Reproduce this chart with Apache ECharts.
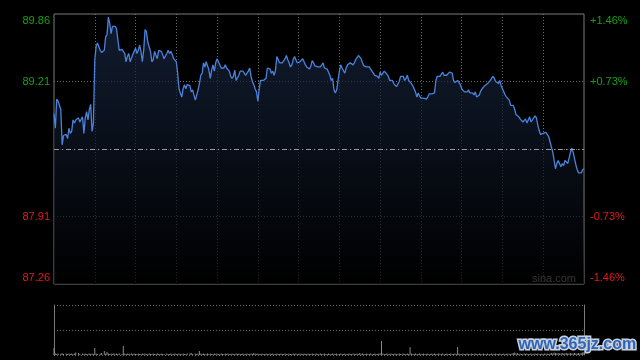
<!DOCTYPE html>
<html><head><meta charset="utf-8">
<script src="https://cdn.jsdelivr.net/npm/echarts@6/dist/echarts.min.js"></script>
<style>html,body{margin:0;padding:0;background:#000;}#c{width:640px;height:360px;}</style>
</head><body><div id="c"></div>
<script>
// minute offsets from 09:30 (390-minute session)
const minutes = [
0,1,2,3,5,6,7,9,10,11,12,13,14,15,16,18,19,21,22,23,24,25,26,27,28,29,30,31,32,34,35,
37,38,39,40,41,42,43,44,45,46,47,48,
50,51,52,53,54,55,56,57,58,59,60,61,62,63,64,65,66,67,68,69,70,71,72,73,74,75,76,77,78,79,80,81,
83,84,85,86,87,88,89,90,91,92,93,94,95,96,97,98,
100,101,102,104,105,106,107,108,109,
110,111,112,113,114,115,116,117,118,119,120,121,122,123,124,125,126,127,128,129,
130,131,132,133,134,135,136,137,138,139,140,141,142,143,144,145,146,147,148,149,
150,151,152,153,154,155,156,157,158,159,160,161,162,163,164,165,166,167,168,169,
170,171,172,173,174,175,176,177,178,179,180,181,182,183,184,185,186,187,188,189,
190,191,192,193,194,195,196,197,
198,199,200,201,202,203,204,205,206,207,208,209,210,211,212,213,214,215,216,217,218,219,
220,221,222,223,224,225,226,227,228,229,230,231,232,233,234,235,236,237,238,239,
240,241,242,243,244,245,246,247,248,249,250,251,252,253,254,255,256,257,258,259,
260,261,262,263,264,265,266,267,268,269,270,271,272,273,274,275,276,277,278,279,
280,281,282,283,284,285,286,287,288,289,290,291,292,293,294,295,296,
297,298,299,300,301,302,303,304,305,306,307,308,309,310,311,312,313,314,315,316,317,318,319,
320,321,322,323,324,325,326,327,328,329,330,331,332,333,334,335,336,337,338,339,
340,341,342,343,344,345,346,347,348,349,350,351,352,353,354,355,356,357,358,359,
360,361,362,363,364,365,366,367,368,369,370,371,372,373,374,375,376,377,378,379,
380,381,382,383,384,385,386,387,388,389,390
];
const prices = [
88.90,88.76,89.04,89.02,88.94,88.60,88.69,88.70,88.66,88.76,88.71,88.73,88.84,88.81,88.84,88.86,88.82,
88.87,88.71,88.86,88.92,88.84,88.94,88.99,88.73,88.81,89.42,89.55,89.58,89.51,89.49,
89.51,89.64,89.66,89.83,89.77,89.67,89.74,89.75,89.74,89.72,89.61,89.51,
89.52,89.50,89.48,89.40,89.45,89.48,89.40,89.39,89.47,89.50,
89.53,89.48,89.51,89.56,89.50,89.40,89.51,89.71,89.69,89.59,
89.58,89.50,89.40,89.42,89.50,89.51,89.43,89.51,89.52,89.50,
89.51,89.43,
89.48,89.51,89.48,89.50,89.47,89.43,89.42,89.40,89.29,89.14,89.10,89.06,89.14,89.18,89.14,89.18,
89.17,89.11,89.13,89.03,89.03,89.13,89.19,89.27,89.29,
89.39,89.35,89.40,89.39,89.32,89.24,89.32,89.37,89.31,89.39,
89.43,89.40,89.40,89.34,89.35,89.34,89.37,89.34,89.35,89.31,
89.26,89.24,89.26,89.32,89.22,89.22,89.27,89.31,89.31,89.31,
89.29,89.27,89.29,89.31,89.34,89.26,89.21,89.18,89.14,89.11,
89.02,89.14,89.22,89.21,89.22,89.22,89.24,89.34,89.35,89.33,
89.29,89.31,89.27,89.32,89.45,89.45,89.39,89.38,89.39,89.40,
89.43,89.46,89.42,89.39,89.35,89.37,89.42,89.45,89.42,89.39,
89.40,89.40,89.41,89.43,89.40,89.37,89.35,89.35,89.33,89.36,
89.41,89.39,89.36,89.35,89.35,89.36,89.35,89.35,
89.39,89.34,
89.35,89.33,89.34,89.27,89.22,89.24,89.13,89.10,89.13,89.22,
89.31,89.37,89.34,89.35,89.29,89.34,89.37,89.37,89.39,89.39,
89.37,89.39,89.42,89.43,89.46,89.47,89.43,89.39,89.36,89.35,
89.35,89.34,89.35,89.33,89.34,89.29,89.27,89.26,89.26,89.24,
89.30,89.27,89.26,89.31,89.31,89.28,89.26,89.22,89.22,89.22,
89.19,89.18,89.16,89.17,89.21,89.26,89.27,89.26,89.22,89.24,
89.27,89.22,89.21,89.19,89.17,89.14,89.11,89.06,89.10,89.07,
89.05,89.06,89.05,89.04,89.04,89.06,89.09,89.08,89.09,89.08,
89.10,89.22,89.26,89.26,89.26,89.27,89.30,89.27,89.26,89.27,
89.26,89.30,89.31,89.29,89.22,89.20,89.19,
89.22,89.21,89.18,
89.14,89.13,89.11,89.10,89.11,89.13,89.10,89.09,89.10,89.08,
89.11,89.06,89.07,89.08,89.12,89.14,89.15,89.17,89.18,89.19,
89.20,89.22,89.24,89.26,89.24,89.21,89.22,89.19,89.22,89.17,
89.16,89.11,89.08,89.06,89.05,89.03,88.98,88.99,88.98,88.94,
88.89,88.88,88.87,88.85,88.84,88.82,88.81,88.85,88.81,88.84,
88.87,88.82,88.81,88.86,88.88,88.86,88.79,88.74,88.70,88.70,
88.71,88.71,88.72,88.71,88.68,88.63,88.58,88.53,88.45,88.37,
88.42,88.45,88.44,88.39,88.42,88.40,88.45,88.44,88.42,88.47,
88.53,88.57,88.53,88.47,88.41,88.36,88.33,88.32,88.33,88.36,88.37
];
// volume, thousands of shares
const volumes = [
14,3,2,3,2,4,2,3,2,3,2,3,2,3,5,4,2,
3,2,3,2,2,3,2,3,2,14,3,2,3,4,
8,3,6,3,2,3,2,3,2,3,2,3,
2,18,3,2,3,2,2,3,2,3,
2,2,3,2,2,3,2,3,2,2,
3,2,2,3,2,2,3,2,2,3,
2,2,
3,2,2,3,2,2,3,2,2,3,2,2,3,2,2,3,
3,4,2,3,2,3,8,3,2,
3,2,2,3,2,3,2,2,3,2,
3,2,2,3,2,2,3,2,3,2,
2,3,2,2,3,2,3,2,2,3,
2,2,3,2,2,3,2,4,3,2,
3,2,2,3,2,2,3,2,2,3,
2,3,2,2,3,2,2,3,2,2,
3,2,2,3,2,2,3,2,3,2,
2,3,2,2,3,2,2,3,2,2,
3,2,2,3,2,2,3,2,
2,3,
2,2,3,2,2,3,2,2,3,2,
2,3,2,2,3,2,2,3,2,2,
3,2,2,3,2,4,2,3,2,2,
3,2,2,3,2,2,3,2,2,3,
3,28,3,2,2,3,2,2,3,2,
2,3,2,2,3,2,2,3,2,2,
3,2,16,3,2,2,3,2,2,3,
2,2,3,2,2,3,2,2,3,2,
3,2,2,3,2,2,3,2,2,3,
2,2,3,2,2,3,2,
16,3,2,
2,3,2,2,3,2,2,3,2,2,
3,2,2,3,2,2,3,2,2,3,
2,2,3,2,2,3,2,2,3,2,
2,3,2,2,3,2,2,3,4,5,
3,4,2,3,2,2,3,2,3,2,
2,3,2,2,3,2,3,2,2,3,
2,3,2,3,2,3,4,3,5,4,
3,4,3,3,4,3,3,4,3,3,
4,3,3,4,3,3,4,3,4,5,6
];
const preClose = 88.56;
const priceTicks = [87.26, 87.91, 88.56, 89.21, 89.86];
const pctTicks = ['-1.46%', '-0.73%', '', '+0.73%', '+1.46%'];
const sessionMinutes = 390;
const halfHour = 30;
const volAxisMax = 100;

const GREEN = '#17a017', RED = '#e31b1b', GRID = '#6b6b6b', FRAME = '#7a7a7a';
const FONT = 'Liberation Sans, Arial, sans-serif';
function tickIndex(v){ let b=0,d=1e9; priceTicks.forEach((t,i)=>{const dd=Math.abs(t-v); if(dd<d){d=dd;b=i;}}); return b; }
const tickStyle = ['rb','r','','g','gt'];
const rich = {
  g:{color:GREEN,fontSize:11,fontFamily:FONT,lineHeight:12},
  gt:{color:GREEN,fontSize:11,fontFamily:FONT,lineHeight:12,padding:[14,0,0,0]},
  r:{color:RED,fontSize:11,fontFamily:FONT,lineHeight:12},
  rb:{color:RED,fontSize:11,fontFamily:FONT,lineHeight:12,padding:[0,0,13,0]}
};
const dotted = {color:GRID,type:[1,2],width:1};

const chart = echarts.init(document.getElementById('c'), null, {renderer:'canvas'});
chart.setOption({
  animation:false,
  backgroundColor:'#000',
  grid:[
    {left:54,right:56,top:14,height:270,show:true,borderColor:FRAME,borderWidth:1,backgroundColor:'transparent'},
    {left:54,right:56,top:305,height:50,show:false}
  ],
  xAxis:[
    {type:'value',gridIndex:0,min:0,max:sessionMinutes,interval:halfHour,
     axisLine:{show:false},axisTick:{show:false},axisLabel:{show:false},
     splitLine:{show:true,showMinLine:false,showMaxLine:false,lineStyle:dotted}},
    {type:'value',gridIndex:1,min:0,max:sessionMinutes,interval:halfHour,
     axisLine:{show:false},axisTick:{show:false},axisLabel:{show:false},splitLine:{show:false}}
  ],
  yAxis:[
    {type:'value',gridIndex:0,position:'left',min:priceTicks[0],max:priceTicks[4],interval:0.65,
     axisLine:{show:false},axisTick:{show:false},
     axisLabel:{show:true,margin:4,rich:rich,
       formatter:function(v){const i=tickIndex(v); if(!tickStyle[i]) return ''; return '{'+tickStyle[i]+'|'+priceTicks[i].toFixed(2)+'}';}},
     splitLine:{show:true,showMinLine:false,showMaxLine:false,lineStyle:dotted}},
    {type:'value',gridIndex:0,position:'right',min:priceTicks[0],max:priceTicks[4],interval:0.65,
     axisLine:{show:false},axisTick:{show:false},splitLine:{show:false},
     axisLabel:{show:true,margin:6,rich:rich,
       formatter:function(v){const i=tickIndex(v); if(!tickStyle[i]) return ''; return '{'+tickStyle[i]+'|'+pctTicks[i]+'}';}}},
    {type:'value',gridIndex:1,position:'left',min:0,max:volAxisMax,interval:volAxisMax/2,
     axisLine:{show:true,lineStyle:{color:FRAME,width:1}},axisTick:{show:false},axisLabel:{show:false},
     splitLine:{show:true,lineStyle:dotted}},
    {type:'value',gridIndex:1,position:'right',min:0,max:volAxisMax,interval:volAxisMax/2,
     axisLine:{show:true,lineStyle:{color:FRAME,width:1}},axisTick:{show:false},axisLabel:{show:false},
     splitLine:{show:false}}
  ],
  series:[
    {type:'line',xAxisIndex:0,yAxisIndex:0,showSymbol:false,silent:true,
     data:minutes.map((m,i)=>[m,prices[i]]),
     lineStyle:{color:'#4a82dc',width:1.3},
     areaStyle:{color:new echarts.graphic.LinearGradient(0,0,0,1,[{offset:0,color:'#192844'},{offset:1,color:'#000000'}])},
     markLine:{silent:true,symbol:['none','none'],label:{show:false},
       lineStyle:{color:'#9a9a9a',type:[5,3,1,3],width:1},data:[{yAxis:preClose}]},
     z:3},
    {type:'bar',xAxisIndex:1,yAxisIndex:2,silent:true,barWidth:1,
     data:minutes.map((m,i)=>[m,volumes[i]]),
     itemStyle:{color:'#8a8a8a'}}
  ],
  graphic:[
    {type:'text',left:532,top:273,silent:true,
     style:{text:'sina.com',fill:'#a9a9a9',font:'11px '+FONT}},
    {type:'text',left:517,top:335,silent:true,z:100,
     style:{text:'www.365jz.com',fill:'#2f64b8',stroke:'#c9d1dc',lineWidth:3,strokeFirst:true,
            font:'bold 16px '+FONT}}
  ]
});
</script></body></html>
